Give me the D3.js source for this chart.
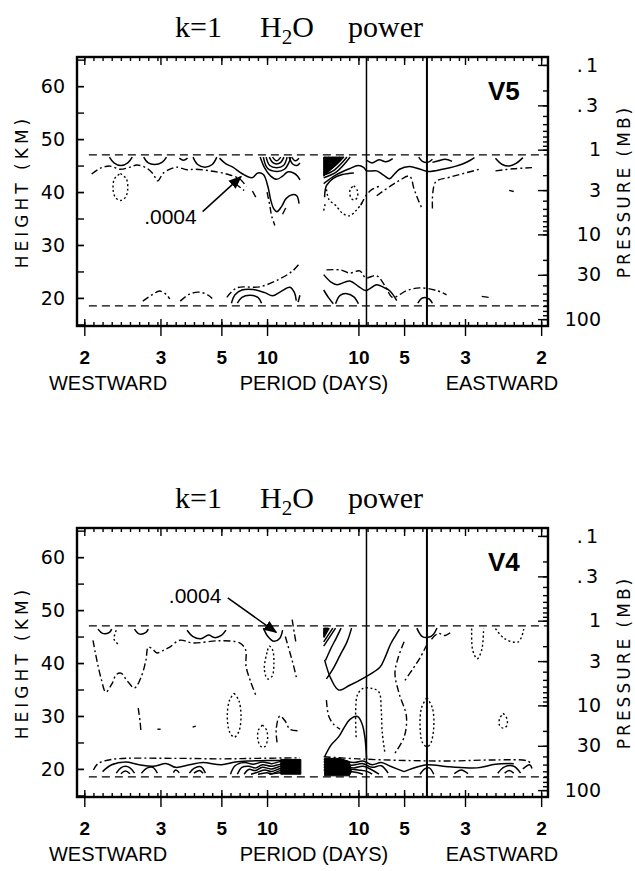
<!DOCTYPE html>
<html>
<head>
<meta charset="utf-8">
<script src="https://cdn.jsdelivr.net/npm/d3@7"></script>
<style>
  body { margin: 0; background: #fff; }
  text { fill: #000; }
</style>
</head>
<body>
<svg id="chart" width="635" height="871"></svg>
<script>
// ---- axis values ----
var heightTicks = [20, 30, 40, 50, 60];
var pressureTicks = [0.1, 0.3, 1, 3, 10, 30, 100];
var pressureLabels = [".1", ".3", "1", "3", "10", "30", "100"];
var westPeriods = [2, 3, 5, 10];
var eastPeriods = [10, 5, 3, 2];
var markerPeriods = [8.5, 4];      // eastward periods of the two vertical lines
var refHeights = [47, 18.5];       // dashed height lines

// ---- contours, [frequency (cpd, <0 westward), height km] ----
var v5Solid = [
  [[-0.445,46.6],[-0.435,45.5],[-0.42,45.0],[-0.405,45.5],[-0.395,46.6]],
  [[-0.37,46.6],[-0.36,45.5],[-0.346,45.2],[-0.33,45.6],[-0.32,46.6]],
  [[-0.292,46.4],[-0.283,46.0],[-0.274,46.4]],
  [[-0.262,46.6],[-0.252,45.2],[-0.236,44.7],[-0.22,45.2],[-0.21,46.6]],
  [[-0.204,46.4],[-0.19,45.3],[-0.175,44.7],[-0.155,43.5],[-0.133,42.7],[-0.12,43.6],[-0.108,43.3],[-0.098,41],[-0.092,38.5],[-0.085,36.8],[-0.078,36.3],[-0.068,37.3],[-0.058,38.8],[-0.045,39.5],[-0.035,39.3],[-0.03,37.8]],
  [[-0.088,46.6],[-0.079,45.9],[-0.070,46.6]],
  [[-0.095,46.6],[-0.088,45.6],[-0.079,45.3],[-0.070,45.6],[-0.063,46.6]],
  [[-0.102,46.6],[-0.094,45.0],[-0.079,44.6],[-0.064,45.0],[-0.056,46.6]],
  [[-0.108,46.6],[-0.099,44.5],[-0.079,43.9],[-0.062,44.3],[-0.052,45.6],[-0.048,46.6]],
  [[-0.046,46.6],[-0.038,45.9],[-0.030,46.4]],
  [[-0.052,46.6],[-0.044,45.3],[-0.035,45.0],[-0.028,45.5]],
  [[-0.115,46.6],[-0.105,44.5],[-0.092,43.0],[-0.079,42.4],[-0.066,43.0],[-0.055,43.8],[-0.042,43.6],[-0.033,43.0],[-0.028,42.3]],
  [[0.024,46.2],[0.028,46.6]],
  [[0.024,45.7],[0.03,46.1],[0.036,46.6]],
  [[0.024,45.2],[0.033,45.8],[0.044,46.6]],
  [[0.024,44.7],[0.036,45.4],[0.052,46.6]],
  [[0.024,44.2],[0.04,45.0],[0.06,46.6]],
  [[0.024,43.7],[0.044,44.6],[0.068,46.6]],
  [[0.024,43.2],[0.048,44.2],[0.075,46.6]],
  [[0.024,42.7],[0.052,43.8],[0.082,46.6]],
  [[0.024,41.6],[0.05,43.2],[0.08,44.4],[0.1,45.0],[0.112,44.6],[0.118,44.0],[0.14,44.0],[0.155,43.2],[0.168,42.5],[0.18,43.5],[0.19,44.3],[0.212,44.8],[0.235,44.3],[0.252,43.9],[0.284,44.3],[0.31,44.8],[0.328,45.3],[0.345,46.0],[0.354,46.5]],
  [[0.026,39],[0.03,41.2],[0.045,42.6],[0.065,43.3],[0.09,43.6]],
  [[0.118,46.0],[0.13,45.5],[0.145,46.1],[0.16,45.7],[0.175,46.3]],
  [[0.232,46.6],[0.24,45.8],[0.252,45.6],[0.262,46.2]],
  [[0.262,45.6],[0.275,45.9],[0.29,46.2],[0.305,45.8]],
  [[0.40,46.4],[0.415,45.2],[0.43,44.9],[0.445,45.4],[0.46,46.5]],
  [[-0.178,19],[-0.17,20.6],[-0.155,21.5],[-0.13,21.6],[-0.105,21.0],[-0.088,20.4],[-0.07,21.2],[-0.05,22.0],[-0.04,21],[-0.036,19.5]],
  [[-0.165,19],[-0.155,20.1],[-0.138,20.5],[-0.12,20.1],[-0.112,19]],
  [[-0.032,19.2],[-0.028,20.5]],
  [[0.024,24.4],[0.04,23.0],[0.053,22.5],[0.081,23.2],[0.1,22.2],[0.116,21.4],[0.14,22.5],[0.155,22],[0.168,21.4],[0.184,19.5]],
  [[0.024,21.5],[0.035,20.0],[0.045,18.9]],
  [[0.05,18.9],[0.06,20.5],[0.075,20.8],[0.09,20.2],[0.1,18.9]],
  [[0.23,19],[0.24,20],[0.255,19.8],[0.262,19]]
];
var v5DashDot = [
  [[-0.484,43.4],[-0.465,44.5],[-0.444,44.9],[-0.422,44.3],[-0.4,44.7],[-0.385,45.1],[-0.365,44.6],[-0.35,43.5],[-0.339,42.1],[-0.328,43.5],[-0.31,44.4],[-0.298,44.7],[-0.275,44.2],[-0.258,44.3],[-0.225,44],[-0.188,43.4],[-0.16,42.5],[-0.145,41]],
  [[-0.17,41.6],[-0.15,40.3]],
  [[-0.132,40.2],[-0.122,38.6]],
  [[-0.1,40],[-0.094,37.5],[-0.09,35.5],[-0.083,33.7]],
  [[-0.066,35.8],[-0.058,37.2]],
  [[0.262,36.9],[0.263,40],[0.27,42.0],[0.30,42.8],[0.365,44.3]],
  [[0.40,44.0],[0.44,44.4],[0.48,44.6]],
  [[0.14,39.3],[0.168,41],[0.19,42.2],[0.212,43],[0.222,40.5],[0.23,38.7],[0.239,36.9]],
  [[0.105,37.5],[0.118,39.5],[0.13,40.5],[0.15,41.2]],
  [[0.43,40.3],[0.44,40.1]],
  [[-0.372,19.4],[-0.35,20.7],[-0.335,21.3],[-0.32,20.6],[-0.313,19.8]],
  [[-0.29,19.4],[-0.27,20.7],[-0.25,21.1],[-0.23,20.6],[-0.22,19.9]],
  [[-0.188,20.1],[-0.166,21.9],[-0.116,22.1],[-0.072,23.6],[-0.044,25.1],[-0.028,26.6]],
  [[0.03,25.3],[0.06,25.3],[0.081,24.7],[0.103,25.1],[0.116,23.8],[0.14,24.2],[0.16,22.0],[0.175,20.1],[0.206,21.4],[0.234,21.9],[0.271,21.4],[0.293,20.6]],
  [[0.37,20.3],[0.385,20.1]]
];
var v5Dotted = [
  [[-0.421,43.5],[-0.408,42.5],[-0.405,40.5],[-0.41,39],[-0.421,38.4],[-0.432,39],[-0.437,40.5],[-0.434,42.5],[-0.421,43.5]],
  [[0.09,41.2],[0.098,40.2],[0.097,38.9],[0.09,38.5],[0.083,39],[0.082,40.5],[0.09,41.2]],
  [[0.03,40.5],[0.036,38.5],[0.05,37.5],[0.065,36.0],[0.08,35.5],[0.095,36.5],[0.108,38]],
  [[0.024,36.5],[0.028,38]]
];
var v5Fill = [
  [[0.024,43.0],[0.024,46.6],[0.068,46.6],[0.05,45.0]]
];

var v4Solid = [
  [[-0.47,46.4],[-0.46,45.6],[-0.445,45.8],[-0.44,46.4]],
  [[-0.39,46.4],[-0.38,45.5],[-0.365,45.8],[-0.36,46.4]],
  [[-0.275,46.2],[-0.262,45.0],[-0.245,44.6],[-0.228,45.3],[-0.215,44.8],[-0.2,45.2],[-0.19,46.2]],
  [[-0.108,46.6],[-0.098,45.0],[-0.085,44.1],[-0.072,44.7],[-0.066,46.2]],
  [[0.024,45.6],[0.03,46.6]],
  [[0.024,44.8],[0.036,46.6]],
  [[0.024,44.0],[0.044,46.6]],
  [[0.024,43.2],[0.05,46.6]],
  [[0.028,40.5],[0.04,42.8],[0.052,44.8],[0.062,46.6]],
  [[0.03,37],[0.045,39],[0.06,41.5],[0.075,44],[0.085,46.6]],
  [[0.026,40.6],[0.04,37],[0.057,34.9],[0.081,35.8],[0.114,37.3],[0.147,39.2],[0.158,41],[0.17,43.5],[0.18,45],[0.19,46.4]],
  [[0.026,22.3],[0.04,24.5],[0.057,26.1],[0.07,28],[0.081,29.3],[0.098,29.9],[0.108,28.5],[0.114,26.1],[0.118,21.8]],
  [[0.228,46.6],[0.24,45.0],[0.255,44.9],[0.265,45.5],[0.272,46.6]],
  [[-0.46,19.5],[-0.44,20.8],[-0.41,21.3],[-0.38,20.8],[-0.35,20.5],[-0.32,21.0],[-0.3,20.3],[-0.27,20.8],[-0.24,21.2],[-0.2,20.8],[-0.17,21.3],[-0.14,21.5],[-0.1,21.6],[-0.028,21.6]],
  [[-0.43,19.2],[-0.42,20.2],[-0.41,20.5],[-0.4,20.2],[-0.39,19.2]],
  [[-0.42,19.1],[-0.41,19.6],[-0.40,19.1]],
  [[-0.375,19.2],[-0.362,20.2],[-0.35,20.3],[-0.34,19.2]],
  [[-0.305,19.3],[-0.3,19.8],[-0.292,19.3]],
  [[-0.27,19.2],[-0.26,20.1],[-0.245,20.4],[-0.235,19.2]],
  [[-0.26,19.2],[-0.248,19.7],[-0.24,19.2]],
  [[-0.18,19.0],[-0.17,20.6],[-0.15,21.2],[-0.13,20.9],[-0.11,21.3],[-0.09,21.0],[-0.07,21.4],[-0.028,21.4]],
  [[-0.165,19.0],[-0.155,20.3],[-0.14,20.5],[-0.125,20.2],[-0.11,20.8],[-0.09,20.5],[-0.07,20.9],[-0.028,20.9]],
  [[-0.15,19.0],[-0.14,19.9],[-0.125,19.7],[-0.11,20.3],[-0.09,20.0],[-0.07,20.5],[-0.028,20.5]],
  [[-0.135,19.0],[-0.12,19.4],[-0.105,19.8],[-0.09,19.5],[-0.07,20.1],[-0.028,20.1]],
  [[-0.12,19.0],[-0.1,19.3],[-0.09,19.1],[-0.07,19.7],[-0.028,19.7]],
  [[-0.095,19.0],[-0.07,19.3],[-0.028,19.3]],
  [[0.024,21.8],[0.06,21.7],[0.09,21.2],[0.11,21.5],[0.13,20.8],[0.15,21.2],[0.17,20.5],[0.2,19.5]],
  [[0.024,21.3],[0.06,21.2],[0.085,20.7],[0.11,21.0],[0.13,20.3],[0.15,20.6],[0.165,19.2]],
  [[0.024,20.8],[0.07,20.6],[0.09,20.2],[0.11,20.5],[0.13,19.8],[0.145,19.0]],
  [[0.024,20.3],[0.08,20.0],[0.1,19.8],[0.12,19.5],[0.13,19.0]],
  [[0.024,19.8],[0.09,19.4],[0.11,19.0]],
  [[0.2,19.5],[0.23,20.4],[0.25,20.8],[0.3,20.4],[0.36,20.2],[0.4,20.9],[0.44,21]],
  [[0.235,19],[0.245,20],[0.255,20.2],[0.265,19]],
  [[0.31,19.1],[0.325,19.8],[0.34,19.1]],
  [[0.405,19.2],[0.42,20.4],[0.44,20.5],[0.455,19.2]],
  [[0.42,19.2],[0.43,19.7],[0.44,19.2]],
  [[0.46,20],[0.475,20.8],[0.48,20.1]]
];
var v4DashDot = [
  [[-0.481,44.3],[-0.476,42],[-0.47,39.5],[-0.463,37],[-0.453,34.5],[-0.44,36],[-0.43,37.8],[-0.42,38.1],[-0.405,36.5],[-0.39,35.3],[-0.375,37.5],[-0.365,40.6],[-0.36,43],[-0.35,42.6],[-0.341,41.9],[-0.325,42.5],[-0.313,43],[-0.291,44.3],[-0.263,43.8],[-0.204,44.2],[-0.16,43.8],[-0.147,42.5],[-0.146,39.4],[-0.136,36.5],[-0.125,34]],
  [[-0.045,48.2],[-0.04,45.5],[-0.036,43.5]],
  [[-0.06,45],[-0.05,42],[-0.042,39.5],[-0.035,37]],
  [[-0.078,25],[-0.08,27.5],[-0.072,30],[-0.06,29],[-0.05,27.5],[-0.03,27.2]],
  [[-0.382,31.5],[-0.378,29],[-0.376,27]],
  [[-0.34,27.5],[-0.333,27.5]],
  [[-0.263,27.9],[-0.256,28.1]],
  [[-0.48,19.8],[-0.47,21],[-0.44,21.8],[-0.3,22],[-0.2,21.9],[-0.12,22],[-0.028,22.1]],
  [[0.024,22.3],[0.1,21.9],[0.2,21.6],[0.3,21.5],[0.4,21.7],[0.47,21.5],[0.48,20.8]],
  [[0.25,43.5],[0.235,41],[0.22,39],[0.2,36.5]],
  [[0.2,44],[0.187,41],[0.18,38],[0.19,34],[0.205,30],[0.2,26],[0.18,23]],
  [[0.03,33],[0.035,30],[0.045,28.5],[0.06,27.5]],
  [[0.26,44.5],[0.275,45.6],[0.29,45.2],[0.305,46]]
];
var v4Dotted = [
  [[-0.172,34.3],[-0.162,33],[-0.157,30],[-0.162,27],[-0.172,26],[-0.182,27],[-0.187,30],[-0.182,33],[-0.172,34.3]],
  [[-0.11,28.3],[-0.101,27.3],[-0.099,25.5],[-0.105,24.2],[-0.113,24.2],[-0.12,25.5],[-0.119,27.3],[-0.11,28.3]],
  [[-0.1,42],[-0.106,39],[-0.099,37],[-0.089,37.5],[-0.085,40],[-0.088,42.5],[-0.095,43.2],[-0.1,42]],
  [[-0.43,46.2],[-0.435,44.5],[-0.425,43.5]],
  [[0.095,26],[0.094,31],[0.098,34],[0.11,35.2],[0.13,35.2],[0.145,34.5],[0.15,31],[0.152,27],[0.158,23]],
  [[0.25,33.5],[0.262,31.5],[0.265,28],[0.258,24.8],[0.25,24.2],[0.24,25],[0.235,28],[0.238,31.5],[0.25,33.5]],
  [[0.417,30.5],[0.425,29.5],[0.425,28.2],[0.417,27.7],[0.409,28.2],[0.409,29.5],[0.417,30.5]],
  [[0.348,46.5],[0.35,42.5],[0.36,40.8],[0.37,42.5],[0.374,46.5]],
  [[0.4,46.5],[0.42,44.6],[0.45,44.0],[0.462,46.4]]
];
var v4Fill = [
  [[-0.07,21.8],[-0.026,21.8],[-0.026,19.0],[-0.07,19.0]],
  [[0.026,22],[0.06,22],[0.08,21.4],[0.085,19.5],[0.08,18.7],[0.026,18.7]],
  [[0.024,45.0],[0.024,46.6],[0.034,46.6]]
];

// annotation: label ".0004" and arrow [from, to] in data units
var v5Note = { text: ".0004", at: [-0.254, 34.0], from: [-0.241, 36.3], to: [-0.157, 42.9] };
var v4Note = { text: ".0004", at: [-0.2, 51.4], from: [-0.186, 52.3], to: [-0.08, 45.8] };

// ---- layout ----
var left = 77, plotW = 471, plotH = 269;
var panels = [
  { name: "V5", top: 57, solid: v5Solid, dashdot: v5DashDot, dotted: v5Dotted, fill: v5Fill, note: v5Note },
  { name: "V4", top: 528, solid: v4Solid, dashdot: v4DashDot, dotted: v4Dotted, fill: v4Fill, note: v4Note }
];

var svg = d3.select("#chart");
var sans = "'Liberation Sans', Arial, sans-serif";
var plotter = "'DejaVu Sans', sans-serif";

var x = d3.scaleLinear().domain([-0.516, 0.515]).range([0, plotW]);
var y = d3.scaleLinear().domain([14.7, 65.5]).range([plotH, 0]);
// pressure ~ 1000 mb * 10^(-z/16)
var pOf = function(z) { return 1000 * Math.pow(10, -z / 16); };
var p = d3.scaleLog().domain([pOf(65.5), pOf(14.7)]).range([0, plotH]);

var majorFreq = westPeriods.map(function(d) { return -1 / d; })
  .concat(eastPeriods.map(function(d) { return 1 / d; }));
var tickLabels = westPeriods.concat(eastPeriods);

var line = d3.line()
  .x(function(d) { return x(d[0]); })
  .y(function(d) { return y(d[1]); })
  .curve(d3.curveCatmullRom.alpha(0.5));

var area = d3.line()
  .x(function(d) { return x(d[0]); })
  .y(function(d) { return y(d[1]); })
  .curve(d3.curveLinearClosed);

svg.append("defs").append("marker")
  .attr("id", "head")
  .attr("viewBox", "0 0 10 10")
  .attr("refX", 9).attr("refY", 5)
  .attr("markerWidth", 9).attr("markerHeight", 9)
  .attr("orient", "auto")
  .append("path").attr("d", "M0,1 L10,5 L0,9 Z").attr("fill", "#000");

panels.forEach(function(pn, i) {
  var g = svg.append("g").attr("transform", "translate(" + left + "," + pn.top + ")");

  // title
  var t = svg.append("text")
    .attr("y", pn.top - 20)
    .style("font-family", "'Liberation Serif', 'Times New Roman', serif")
    .style("font-size", "30px");
  t.append("tspan").attr("x", 175).text("k=1");
  t.append("tspan").attr("x", 260).text("H");
  t.append("tspan").attr("dy", 7).style("font-size", "21px").text("2");
  t.append("tspan").attr("dy", -7).text("O");
  t.append("tspan").attr("x", 348).text("power");

  g.append("clipPath").attr("id", "clip" + i)
    .append("rect").attr("width", plotW).attr("height", plotH);
  var c = g.append("g").attr("clip-path", "url(#clip" + i + ")");

  // dashed reference heights
  c.selectAll(".ref").data(refHeights).enter().append("line")
    .attr("x1", x(-0.49)).attr("x2", plotW)
    .attr("y1", function(d) { return y(d); }).attr("y2", function(d) { return y(d); })
    .attr("stroke", "#000").attr("stroke-width", 1.2).attr("stroke-dasharray", "8,5");

  // marker period lines
  c.selectAll(".vl").data(markerPeriods).enter().append("line")
    .attr("x1", function(d) { return x(1 / d); }).attr("x2", function(d) { return x(1 / d); })
    .attr("y1", 0).attr("y2", plotH)
    .attr("stroke", "#000").attr("stroke-width", function(d, j) { return j ? 2 : 1.5; });

  c.selectAll(".fill").data(pn.fill).enter().append("path")
    .attr("d", area).attr("fill", "#000").attr("stroke", "#000").attr("stroke-width", 1);

  c.selectAll(".solid").data(pn.solid).enter().append("path")
    .attr("d", line).attr("fill", "none").attr("stroke", "#000").attr("stroke-width", 1.5);

  c.selectAll(".dashdot").data(pn.dashdot).enter().append("path")
    .attr("d", line).attr("fill", "none").attr("stroke", "#000").attr("stroke-width", 1.4)
    .attr("stroke-dasharray", "7,3,2,3");

  c.selectAll(".dotted").data(pn.dotted).enter().append("path")
    .attr("d", line).attr("fill", "none").attr("stroke", "#000").attr("stroke-width", 1.4)
    .attr("stroke-dasharray", "2,2.5");

  // annotation
  g.append("text")
    .attr("x", x(pn.note.at[0])).attr("y", y(pn.note.at[1]))
    .attr("text-anchor", "end")
    .style("font-family", sans).style("font-size", "21px")
    .text(pn.note.text);
  g.append("line")
    .attr("x1", x(pn.note.from[0])).attr("y1", y(pn.note.from[1]))
    .attr("x2", x(pn.note.to[0])).attr("y2", y(pn.note.to[1]))
    .attr("stroke", "#000").attr("stroke-width", 1.5)
    .attr("marker-end", "url(#head)");

  // version label
  g.append("text").attr("x", 411).attr("y", 43)
    .style("font-family", sans).style("font-weight", "bold").style("font-size", "26px")
    .text(pn.name);

  // left axis: heights
  g.append("g").call(d3.axisLeft(y).tickValues(d3.range(15, 66, 5)).tickSize(-7).tickFormat(""));
  var la = g.append("g").call(d3.axisLeft(y).tickValues(heightTicks).tickSize(-7).tickPadding(12));
  la.selectAll("text").style("font-family", plotter).style("font-size", "19px");

  // right axis: pressure (log)
  var minorP = [];
  [0.1, 1, 10, 100].forEach(function(dec) {
    for (var k = 1; k < 10; k++) minorP.push(dec * k);
  });
  minorP = minorP.filter(function(v) { return v > p.domain()[0] && v < p.domain()[1]; });
  g.append("g").attr("transform", "translate(" + plotW + ",0)")
    .call(d3.axisRight(p).tickValues(minorP).tickSize(-5).tickFormat(""));
  var ra = g.append("g").attr("transform", "translate(" + plotW + ",0)")
    .call(d3.axisRight(p).tickValues(pressureTicks).tickSize(-10)
      .tickFormat(function(d, j) { return pressureLabels[j]; }));
  ra.selectAll("text").attr("x", 53).attr("text-anchor", "end")
    .style("font-family", plotter).style("font-size", "19px")
    .style("letter-spacing", function(d) { return d < 1 ? "3px" : "0px"; });

  // top & bottom axes: frequency
  var minorF = d3.range(-0.5, 0.5001, 0.02);
  g.append("g").call(d3.axisTop(x).tickValues(minorF).tickSize(-4).tickFormat(""));
  g.append("g").call(d3.axisTop(x).tickValues(majorFreq).tickSize(-8).tickFormat(""));
  g.append("g").attr("transform", "translate(0," + plotH + ")")
    .call(d3.axisBottom(x).tickValues(minorF).tickSize(-4).tickFormat(""));
  g.append("g").attr("transform", "translate(0," + plotH + ")")
    .call(d3.axisBottom(x).tickValues(majorFreq).tickSize(-7).tickFormat(""));
  var ba = g.append("g").attr("transform", "translate(0," + plotH + ")")
    .call(d3.axisBottom(x).tickValues(majorFreq).tickSize(10).tickPadding(15)
      .tickFormat(function(d, j) { return tickLabels[j]; }));
  ba.selectAll("text").style("font-family", sans).style("font-weight", "bold").style("font-size", "19px");

  g.selectAll(".domain").remove();
  g.selectAll(".tick line").attr("stroke-width", 1.4);

  // frame
  g.append("rect").attr("width", plotW).attr("height", plotH)
    .attr("fill", "none").attr("stroke", "#000").attr("stroke-width", 2.4);

  // axis titles
  g.append("text")
    .attr("transform", "translate(" + (-55) + "," + (plotH / 2) + ") rotate(-90)")
    .attr("text-anchor", "middle").attr("dy", "0.35em")
    .style("font-family", plotter).style("font-size", "17px").style("letter-spacing", "4px")
    .text("HEIGHT (KM)");
  g.append("text")
    .attr("transform", "translate(" + (plotW + 76) + "," + (plotH / 2) + ") rotate(-90)")
    .attr("text-anchor", "middle").attr("dy", "0.35em")
    .style("font-family", plotter).style("font-size", "17px").style("letter-spacing", "3px")
    .text("PRESSURE (MB)");

  var bl = g.append("g").attr("transform", "translate(0," + (plotH + 64) + ")")
    .style("font-family", sans).style("font-size", "20px");
  bl.append("text").attr("x", 31).attr("text-anchor", "middle").text("WESTWARD");
  bl.append("text").attr("x", 237).attr("text-anchor", "middle").text("PERIOD  (DAYS)");
  bl.append("text").attr("x", 425).attr("text-anchor", "middle").text("EASTWARD");
});
</script>
</body>
</html>
